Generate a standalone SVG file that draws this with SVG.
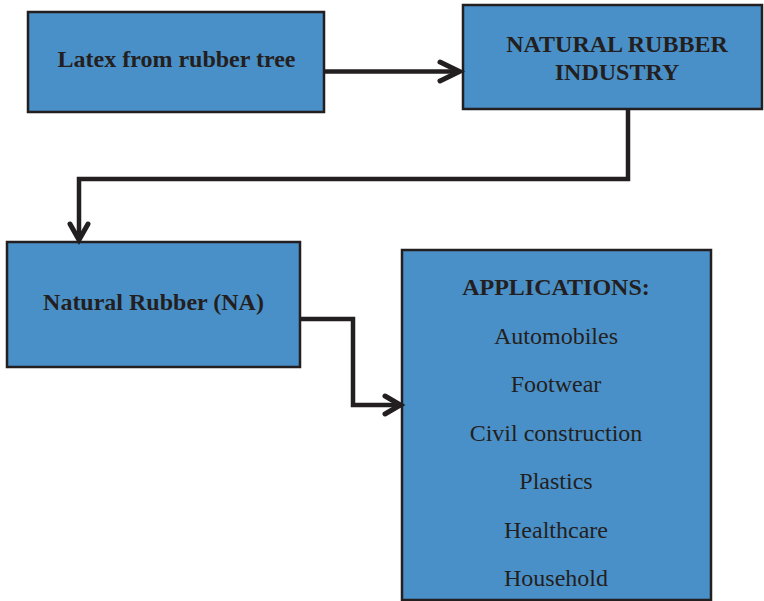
<svg xmlns="http://www.w3.org/2000/svg" width="764" height="601" viewBox="0 0 764 601">
  <style>
    .box { fill: #4a90c8; stroke: #231f20; stroke-width: 2.5; }
    .lbl { font-family: "Liberation Serif", "Times New Roman", serif; fill: #231f20; text-anchor: middle; font-size: 24px; }
    .b { font-weight: bold; }
    .wire { fill: none; stroke: #231f20; stroke-width: 4.5; stroke-linejoin: miter; }
    .head { fill: none; stroke: #231f20; stroke-width: 5; stroke-linecap: round; stroke-linejoin: miter; }
  </style>
  <rect width="764" height="601" fill="#ffffff"/>

  <g id="latex">
    <rect class="box" x="28" y="12" width="296" height="100"/>
    <text class="lbl b" x="176.5" y="67">Latex from rubber tree</text>
  </g>

  <g id="industry">
    <rect class="box" x="463" y="5" width="299" height="104"/>
    <text class="lbl b" x="617" y="52">NATURAL RUBBER</text>
    <text class="lbl b" x="617" y="80">INDUSTRY</text>
  </g>

  <g id="natural-rubber">
    <rect class="box" x="7" y="242" width="293" height="125"/>
    <text class="lbl b" x="153.5" y="310">Natural Rubber (NA)</text>
  </g>

  <g id="applications">
    <rect class="box" x="402" y="250" width="309" height="350"/>
    <text class="lbl b" x="556" y="295">APPLICATIONS:</text>
    <text class="lbl" x="556" y="344">Automobiles</text>
    <text class="lbl" x="556" y="392">Footwear</text>
    <text class="lbl" x="556" y="441">Civil construction</text>
    <text class="lbl" x="556" y="489">Plastics</text>
    <text class="lbl" x="556" y="538">Healthcare</text>
    <text class="lbl" x="556" y="586">Household</text>
  </g>

  <g id="connectors">
    <!-- latex -> industry -->
    <path class="wire" d="M324 71.5 H459"/>
    <path class="head" d="M440 62 L459.5 71.5 L440 81"/>
    <!-- industry -> natural rubber -->
    <path class="wire" d="M628 109 V179 H79 V239"/>
    <path class="head" d="M70 224 L79 240 L88 224"/>
    <!-- natural rubber -> applications -->
    <path class="wire" d="M300 319 H353 V405 H400"/>
    <path class="head" d="M385 396 L400.5 405 L385 414"/>
  </g>
</svg>
